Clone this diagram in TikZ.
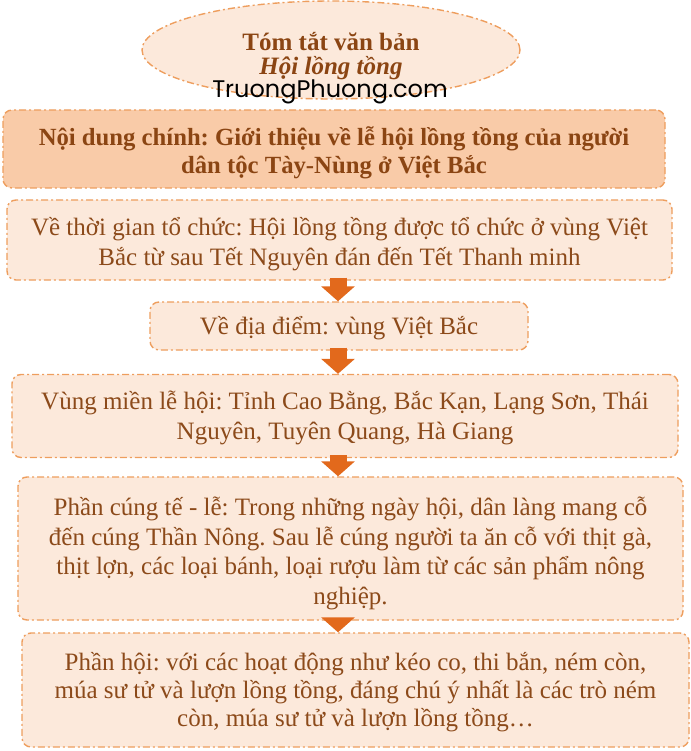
\documentclass[tikz,border=0pt]{standalone}
\usepackage{fontspec}
\setmainfont{Liberation Serif}
\newfontfamily\wmfont{Poppins}
\usetikzlibrary{arrows.meta,shapes.geometric}
\frenchspacing
\definecolor{edge}{HTML}{EE9E5E}
\definecolor{lightfill}{HTML}{FCE9DB}
\definecolor{darkfill}{HTML}{F9CBA8}
\definecolor{txt}{HTML}{8C4A1A}
\definecolor{boldtxt}{HTML}{8B4513}
\definecolor{arr}{HTML}{E2691C}
\tikzset{
  dd/.style={draw=edge, line width=1.4pt, dash pattern=on 7pt off 3pt on 2pt off 3pt},
  box/.style={dd, fill=lightfill, rounded corners=9pt, inner sep=0pt},
  mainbox/.style={box, fill=darkfill},
  boxtext/.style={align=center, text=txt, font=\fontsize{25}{29.5}\selectfont, inner sep=0pt},
  maintext/.style={boxtext, text=boldtxt, font=\fontsize{24.7}{28}\selectfont\bfseries},
  oval/.style={dd, ellipse, fill=lightfill, inner sep=0pt},
  titletxt/.style={text=boldtxt, font=\fontsize{25}{27}\selectfont\bfseries, inner sep=0pt},
  flow/.style={draw=arr, line width=17pt, -{Triangle[width=33pt,length=15pt]}, shorten <=-3pt},
}
\begin{document}
\begin{tikzpicture}[x=1pt,y=-1pt]
\useasboundingbox (0,0) rectangle (690,751);
\node[oval, minimum width=378pt, minimum height=98pt] (title) at (331,50) {};
\node[titletxt] (t1) at (331,42) {Tóm tắt văn bản};
\node[titletxt, font=\fontsize{25}{27}\selectfont\bfseries\itshape] (t2) at (331,68) {Hội lồng tồng};
\node[font=\wmfont\fontsize{24}{27}\selectfont, text=black, inner sep=0pt] (wm) at (330,92) {TruongPhuong.com};
\node[mainbox, minimum width=662pt, minimum height=78pt] (main) at (334,149) {};
\node[maintext, yshift=-4pt] (maint) at (main)
  {Nội dung chính: Giới thiệu về lễ hội lồng tồng của người\\dân tộc Tày-Nùng ở Việt Bắc};
\node[box, minimum width=665pt, minimum height=80pt] (b1) at (339.5,240) {};
\node[boxtext, yshift=-4pt] (b1t) at (b1)
  {Về thời gian tổ chức: Hội lồng tồng được tổ chức ở vùng Việt\\Bắc từ sau Tết Nguyên đán đến Tết Thanh minh};
\node[box, minimum width=378pt, minimum height=48pt] (b2) at (339,326) {};
\node[boxtext, yshift=-2pt] (b2t) at (b2) {Về địa điểm: vùng Việt Bắc};
\node[box, minimum width=666pt, minimum height=83pt] (b3) at (345,416) {};
\node[boxtext, yshift=-2pt] (b3t) at (b3)
  {Vùng miền lễ hội: Tỉnh Cao Bằng, Bắc Kạn, Lạng Sơn, Thái\\Nguyên, Tuyên Quang, Hà Giang};
\node[box, minimum width=665pt, minimum height=143pt] (b4) at (350.5,548.5) {};
\node[boxtext, yshift=-5pt] (b4t) at (b4)
  {Phần cúng tế - lễ: Trong những ngày hội, dân làng mang cỗ\\đến cúng Thần Nông. Sau lễ cúng người ta ăn cỗ với thịt gà,\\thịt lợn, các loại bánh, loại rượu làm từ các sản phẩm nông\\nghiệp.};
\node[box, minimum width=667pt, minimum height=114pt] (b5) at (355.5,690) {};
\node[boxtext, font=\fontsize{25}{28}\selectfont, yshift=-2pt] (b5t) at (b5)
  {Phần hội: với các hoạt động như kéo co, thi bắn, ném còn,\\múa sư tử và lượn lồng tồng, đáng chú ý nhất là các trò ném\\còn, múa sư tử và lượn lồng tồng…};
\coordinate (ax) at (338,0);
\draw[flow] (b1.south -| ax) -- (b2.north -| ax);
\draw[flow] (b2.south -| ax) -- (b3.north -| ax);
\draw[flow] (b3.south -| ax) -- (b4.north -| ax);
\draw[flow] (b4.south -| ax) -- (b5.north -| ax);
\end{tikzpicture}
\end{document}
